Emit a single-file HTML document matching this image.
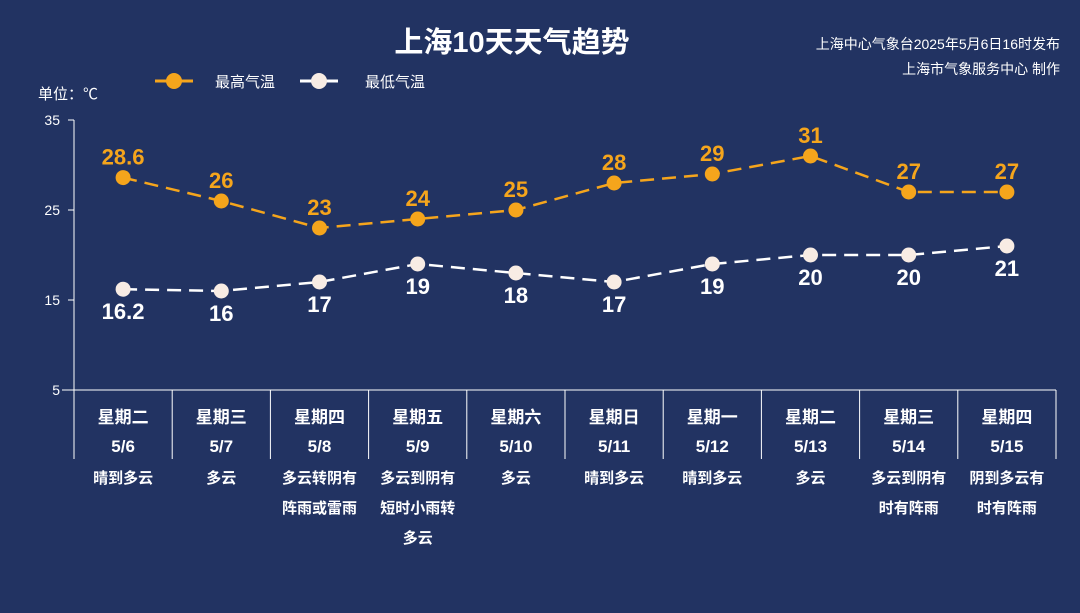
<!DOCTYPE html>
<html><head><meta charset="utf-8">
<style>
html,body{margin:0;padding:0;background:#223362;}
svg{display:block;font-family:"Liberation Sans","Noto Sans CJK SC",sans-serif;}
</style></head>
<body>
<svg id="chart" width="1080" height="613" viewBox="0 0 1080 613">
<rect width="1080" height="613" fill="#223362"/>
<text x="512" y="52" text-anchor="middle" font-size="29" font-weight="bold" fill="#fff">上海10天天气趋势</text>
<text x="1060" y="49" text-anchor="end" font-size="14" fill="#fff">上海中心气象台2025年5月6日16时发布</text>
<text x="1060" y="74" text-anchor="end" font-size="14" fill="#fff">上海市气象服务中心 制作</text>
<g>
<g>
<line x1="155" y1="81" x2="193" y2="81" stroke="#f5a51c" stroke-width="3"/>
<circle cx="174" cy="81" r="8" fill="#f5a51c"/>
<text x="215" y="87" font-size="15" fill="#fff">最高气温</text>
</g>
<g>
<line x1="300" y1="81" x2="338" y2="81" stroke="#fff" stroke-width="3"/>
<circle cx="319" cy="81" r="8" fill="#f8ece4"/>
<text x="365" y="87" font-size="15" fill="#fff">最低气温</text>
</g>
</g>
<text x="38" y="99" font-size="15" fill="#fff">单位：℃</text>
<g id="axes"></g>
<g id="marks"></g>
</svg>
<script>
const days = ["星期二","星期三","星期四","星期五","星期六","星期日","星期一","星期二","星期三","星期四"];
const dates = ["5/6","5/7","5/8","5/9","5/10","5/11","5/12","5/13","5/14","5/15"];
const weather = [["晴到多云"],["多云"],["多云转阴有","阵雨或雷雨"],["多云到阴有","短时小雨转","多云"],["多云"],["晴到多云"],["晴到多云"],["多云"],["多云到阴有","时有阵雨"],["阴到多云有","时有阵雨"]];
const highTemps = [28.6,26,23,24,25,28,29,31,27,27];
const lowTemps = [16.2,16,17,19,18,17,19,20,20,21];
const yTicks = [35,25,15,5];

const NS="http://www.w3.org/2000/svg";
const X0=74, X1=1056, Y0=390, YTOP=120, VMIN=5, VMAX=35;
const bw=(X1-X0)/days.length;
function xc(i){return X0+bw*(i+0.5);}
function y(v){return Y0-(v-VMIN)/(VMAX-VMIN)*(Y0-YTOP);}
function mk(tag,attrs,parent){const e=document.createElementNS(NS,tag);for(const k in attrs)e.setAttribute(k,attrs[k]);parent.appendChild(e);return e;}
const axes=document.getElementById('axes'), marks=document.getElementById('marks');

const ya=mk('line',{x1:X0,y1:YTOP,x2:X0,y2:Y0,stroke:'#fff','stroke-width':1},axes);


yTicks.forEach(t=>{
  const tk=mk('line',{x1:X0-6,y1:y(t),x2:X0,y2:y(t),stroke:'#fff'},axes);
  
  
  const tl=mk('text',{x:X0-14,y:y(t)+5,'text-anchor':'end','font-size':14,fill:'#fff'},axes);
  tl.textContent=t;
  
  
});
const xa=mk('line',{x1:X0-12,y1:Y0,x2:X1,y2:Y0,stroke:'#fff'},axes);


for(let i=0;i<=days.length;i++){
  const s=mk('line',{x1:X0+bw*i,y1:Y0,x2:X0+bw*i,y2:459,stroke:'#fff'},axes);
  
  
}
days.forEach((d,i)=>{
  const t1=mk('text',{x:xc(i),y:423,'text-anchor':'middle','font-size':17,'font-weight':'bold',fill:'#fff'},axes);
  t1.textContent=d;
  
  
  const t2=mk('text',{x:xc(i),y:452,'text-anchor':'middle','font-size':17,'font-weight':'bold',fill:'#fff'},axes);
  t2.textContent=dates[i];
  
  
  weather[i].forEach((w,j)=>{
    const t3=mk('text',{x:xc(i),y:483+j*30,'text-anchor':'middle','font-size':15,'font-weight':'bold',fill:'#fff'},axes);
    t3.textContent=w;
    
    
  });
});

function series(vals,color,fill,name,above){
  const pts=vals.map((v,i)=>xc(i)+','+y(v)).join(' ');
  const l=mk('polyline',{points:pts,fill:'none',stroke:color,'stroke-width':2.5,'stroke-dasharray':'14 8'},marks);
  
  
  vals.forEach((v,i)=>{
    const c=mk('circle',{cx:xc(i),cy:y(v),r:7.5,fill:fill},marks);
    
    
    const t=mk('text',{x:xc(i),y:above?y(v)-13:y(v)+30,'text-anchor':'middle','font-size':22,'font-weight':'bold',fill:color},marks);
    t.textContent=v;
    
    
  });
}
series(lowTemps,'#ffffff','#f8ece4','low-temp',false);
series(highTemps,'#f5a51c','#f5a51c','high-temp',true);
</script>
</body></html>
